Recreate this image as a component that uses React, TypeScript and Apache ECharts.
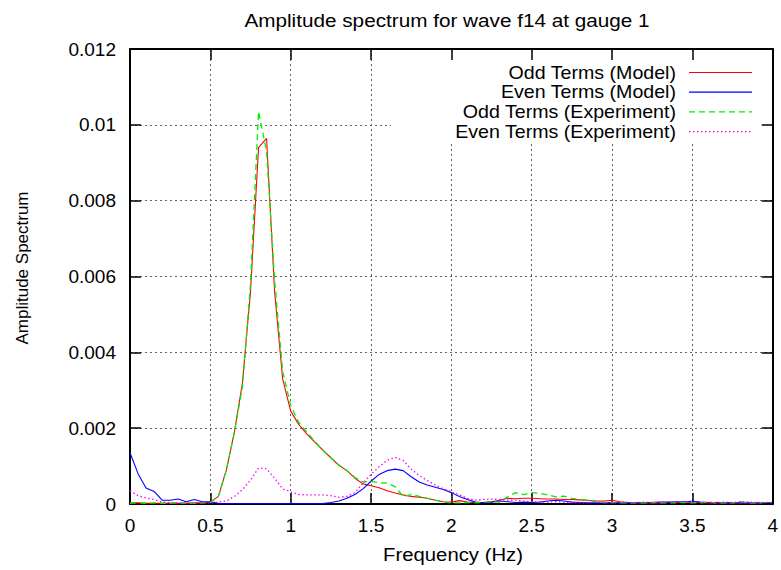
import React, { useEffect, useRef } from "react";
import * as echarts from "echarts";

const TITLE = "Amplitude spectrum for wave f14 at gauge 1";
const X_NAME = "Frequency (Hz)";
const Y_NAME = "Amplitude Spectrum";
const SERIES_NAMES = [
  "Odd Terms (Model)",
  "Even Terms (Model)",
  "Odd Terms (Experiment)",
  "Even Terms (Experiment)",
];

const FREQ = [
  0, 0.05, 0.1, 0.15, 0.2, 0.25, 0.3, 0.35, 0.4, 0.45,
  0.5, 0.55, 0.6, 0.65, 0.7, 0.75, 0.8, 0.85, 0.9, 0.95,
  1.0, 1.05, 1.1, 1.15, 1.2, 1.25, 1.3, 1.35, 1.4, 1.45,
  1.5, 1.55, 1.6, 1.65, 1.7, 1.75, 1.8, 1.85, 1.9, 1.95,
  2.0, 2.05, 2.1, 2.15, 2.2, 2.25, 2.3, 2.35, 2.4, 2.45,
  2.5, 2.55, 2.6, 2.65, 2.7, 2.75, 2.8, 2.85, 2.9, 2.95,
  3.0, 3.05, 3.1, 3.15, 3.2, 3.25, 3.3, 3.35, 3.4, 3.45,
  3.5, 3.55, 3.6, 3.65, 3.7, 3.75, 3.8, 3.85, 3.9, 3.95,
  4.0,
];

const ODD_MODEL = [
  0.00003, 0.00003, 0.00002, 0.00002, 0.00002, 0.00002, 0.00002, 0.00002, 0.00003, 0.00003,
  0.00005, 0.0002, 0.0009, 0.0019, 0.0032, 0.0056, 0.0094, 0.00964, 0.0056, 0.0033,
  0.00245, 0.0021, 0.00185, 0.00163, 0.00142, 0.00122, 0.00102, 0.00088, 0.00068, 0.00053,
  0.00048, 0.00043, 0.00035, 0.00029, 0.00024, 0.0002, 0.00018, 0.00015, 0.0001, 0.00006,
  0.00005, 0.00009, 0.00005, 0.00004, 0.00004, 0.00006, 0.0001, 0.00015, 0.00014, 0.00015,
  0.00015, 0.00014, 0.00013, 0.00013, 0.00012, 0.00012, 0.00011, 0.0001, 0.00008, 0.00008,
  0.0001, 0.00006, 0.00004, 0.00003, 0.00003, 0.00003, 0.00003, 0.00004, 0.00004, 0.00005,
  0.00005, 0.00004, 0.00003, 0.00003, 0.00003, 0.00003, 0.00002, 0.00002, 0.00002, 0.00002,
  0.00002,
];

const EVEN_MODEL = [
  0.00135, 0.0008, 0.00042, 0.00033, 0.0001, 0.0001, 0.00013, 0.00006, 0.00012, 0.00006,
  0.00006, 0.00002, 0.00001, 0.00001, 0.00001, 0.00001, 0.00001, 0.00001, 0.00001, 0.00001,
  0.00001, 0.00001, 0.00001, 0.00001, 0.00001, 0.00004, 0.00008, 0.00015, 0.00025, 0.0004,
  0.0006, 0.00078, 0.00088, 0.00092, 0.00088, 0.00072, 0.00058, 0.0005, 0.00044, 0.00038,
  0.0003, 0.0002, 0.00012, 0.00005, 0.00003, 0.00005, 0.00008, 0.00006, 0.00004, 0.00005,
  0.00004, 0.00005, 0.00008, 0.0001, 0.00008, 0.00005, 0.00004, 0.00003, 0.00003, 0.00003,
  0.00004, 0.00003, 0.00003, 0.00003, 0.00004, 0.00004, 0.00005, 0.00005, 0.00006, 0.00006,
  0.00007, 0.00005, 0.00004, 0.00004, 0.00003, 0.00003, 0.00003, 0.00003, 0.00003, 0.00003,
  0.00003,
];

const ODD_EXPERIMENT = [
  0.00002, 0.00003, 0.00002, 0.00003, 0.00002, 0.00002, 0.00003, 0.00002, 0.00002, 0.00003,
  0.00004, 0.0002, 0.0009, 0.0019, 0.0031, 0.0058, 0.01035, 0.0093, 0.0059, 0.0035,
  0.0026, 0.00215, 0.0019, 0.00165, 0.00142, 0.00122, 0.00103, 0.00088, 0.0007, 0.00058,
  0.0006, 0.00056, 0.00055, 0.00046, 0.0002, 0.00025, 0.0002, 0.00015, 0.0001, 0.00005,
  0.00003, 0.00003, 0.00004, 0.00003, 0.00005, 0.00006, 0.00005, 0.00019, 0.0003, 0.00025,
  0.0003, 0.00028, 0.00024, 0.00019, 0.00021, 0.00015, 0.00012, 0.0001, 0.00006, 0.00004,
  0.00004, 0.00003, 0.00003, 0.00003, 0.00003, 0.00004, 0.00003, 0.00003, 0.00003, 0.00004,
  0.00003, 0.00003, 0.00005, 0.00003, 0.00003, 0.00003, 0.00006, 0.00003, 0.00003, 0.00003,
  0.00003,
];

const EVEN_EXPERIMENT = [
  0.00035, 0.00022, 0.00016, 0.00012, 0.00005, 0.00004, 0.00003, 0.00003, 0.00003, 0.00003,
  0.00003, 0.00005, 0.00008, 0.0002, 0.00038, 0.00063, 0.00095, 0.00093, 0.00068, 0.0004,
  0.00032, 0.00025, 0.00024, 0.00024, 0.00024, 0.00022, 0.00018, 0.0002, 0.0003, 0.00055,
  0.00078, 0.00098, 0.00115, 0.00123, 0.00115, 0.00092, 0.00075, 0.00062, 0.0005, 0.0004,
  0.00032, 0.00024, 0.00015, 0.0001, 0.00012, 0.00013, 0.00012, 0.0001, 0.0001, 0.00008,
  0.00006, 0.00005, 0.00005, 0.00006, 0.00005, 0.00004, 0.00004, 0.00004, 0.00005, 0.00004,
  0.00004, 0.00005, 0.00004, 0.00004, 0.00005, 0.00004, 0.00005, 0.00006, 0.00005, 0.00007,
  0.00006, 0.00005, 0.00004, 0.00004, 0.00005, 0.00004, 0.00006, 0.00005, 0.00004, 0.00004,
  0.00004,
];

const FONT = "'Liberation Sans', Arial, Helvetica, sans-serif";
const COLORS = ["#ff0000", "#0000ff", "#00ee00", "#ff00ff"];
const DASHES: any[] = ["solid", "solid", [6, 4], [1.5, 2.5]];

const W = 781;
const H = 570;
const G_LEFT = 130;
const G_RIGHT = 3;
const G_TOP = 49;
const G_BOTTOM = 66;

export default function App() {
  const ref = useRef<HTMLDivElement>(null);

  useEffect(() => {
    if (!ref.current) return;
    const chart = echarts.init(ref.current, undefined, { renderer: "svg" });
    const allSeries = [ODD_MODEL, EVEN_MODEL, ODD_EXPERIMENT, EVEN_EXPERIMENT];
    const plotCx = G_LEFT + (W - G_LEFT - G_RIGHT) / 2;
    const plotCy = G_TOP + (H - G_TOP - G_BOTTOM) / 2;

    const splitLine = {
      show: true,
      lineStyle: { color: "#666", width: 1, type: [2, 3] as any },
    };
    const tick = {
      show: true,
      inside: true,
      length: 11,
      lineStyle: { color: "#000", width: 1.5 },
    };
    const axisLine = {
      show: true,
      onZero: false,
      lineStyle: { color: "#000", width: 2 },
    };
    const labelStyle = { fontFamily: FONT, fontSize: 19, color: "#000" };

    const legendX0 = 689;
    const legendX1 = 752;
    const legendTextRight = 676;
    const legendY0 = 72.5;
    const legendDy = 19.7;

    const legendGraphics: any[] = [];
    SERIES_NAMES.forEach((name, i) => {
      const y = legendY0 + i * legendDy;
      legendGraphics.push({
        type: "text",
        z: 20,
        x: legendTextRight,
        y,
        scaleX: 1.09,
        style: {
          text: name,
          fontFamily: FONT,
          fontSize: 18,
          fill: "#000",
          textAlign: "right",
          textVerticalAlign: "middle",
        },
      });
      legendGraphics.push({
        type: "line",
        z: 20,
        shape: { x1: legendX0, y1: y, x2: legendX1, y2: y },
        style: {
          stroke: COLORS[i],
          lineWidth: i >= 2 ? 1.3 : 1.2,
          lineDash: Array.isArray(DASHES[i]) ? DASHES[i] : null,
        },
      });
    });

    const option: any = {
      animation: false,
      backgroundColor: "#fff",
      grid: {
        left: G_LEFT,
        right: G_RIGHT,
        top: G_TOP,
        bottom: G_BOTTOM,
        containLabel: false,
      },
      xAxis: [
        {
          type: "value",
          min: 0,
          max: 4,
          interval: 0.5,
          position: "bottom",
          axisLine,
          axisTick: tick,
          splitLine,
          axisLabel: {
            ...labelStyle,
            margin: 12,
            formatter: (v: number) => String(+v.toFixed(1)),
          },
        },
        {
          type: "value",
          min: 0,
          max: 4,
          interval: 0.5,
          position: "top",
          z: 30,
          axisLine,
          axisTick: tick,
          splitLine: { show: false },
          axisLabel: { show: false },
        },
      ],
      yAxis: [
        {
          type: "value",
          min: 0,
          max: 0.012,
          interval: 0.002,
          position: "left",
          axisLine,
          axisTick: tick,
          splitLine,
          axisLabel: {
            ...labelStyle,
            margin: 14,
            formatter: (v: number) => String(+v.toFixed(3)),
          },
        },
        {
          type: "value",
          min: 0,
          max: 0.012,
          interval: 0.002,
          position: "right",
          z: 30,
          axisLine,
          axisTick: tick,
          splitLine: { show: false },
          axisLabel: { show: false },
        },
      ],
      graphic: [
        {
          type: "rect",
          z: 5,
          shape: { x: 391, y: 51, width: 386, height: 92 },
          style: { fill: "#fff" },
        },
        {
          type: "text",
          z: 20,
          x: 447,
          y: 20,
          scaleX: 1.12,
          style: {
            text: TITLE,
            fontFamily: FONT,
            fontSize: 18.5,
            fill: "#000",
            textAlign: "center",
            textVerticalAlign: "middle",
          },
        },
        {
          type: "text",
          z: 20,
          x: 453,
          y: 554,
          scaleX: 1.07,
          style: {
            text: X_NAME,
            fontFamily: FONT,
            fontSize: 19,
            fill: "#000",
            textAlign: "center",
            textVerticalAlign: "middle",
          },
        },
        {
          type: "text",
          z: 20,
          x: 22,
          y: 268,
          rotation: Math.PI / 2,
          style: {
            text: Y_NAME,
            fontFamily: FONT,
            fontSize: 17,
            fill: "#000",
            textAlign: "center",
            textVerticalAlign: "middle",
          },
        },
        ...legendGraphics,
      ],
      series: allSeries.map((vals, i) => ({
        name: SERIES_NAMES[i],
        type: "line",
        xAxisIndex: 0,
        yAxisIndex: 0,
        showSymbol: false,
        symbol: "none",
        z: 3 + i,
        lineStyle: {
          color: COLORS[i],
          width: i >= 2 ? 1.3 : 1.1,
          type: DASHES[i],
        },
        data: FREQ.map((f, k) => [f, vals[k]]),
      })),
    };

    chart.setOption(option);
    return () => chart.dispose();
  }, []);

  return (
    <div
      ref={ref}
      style={{ position: "fixed", left: 0, top: 0, width: W, height: H, background: "#fff" }}
    />
  );
}
